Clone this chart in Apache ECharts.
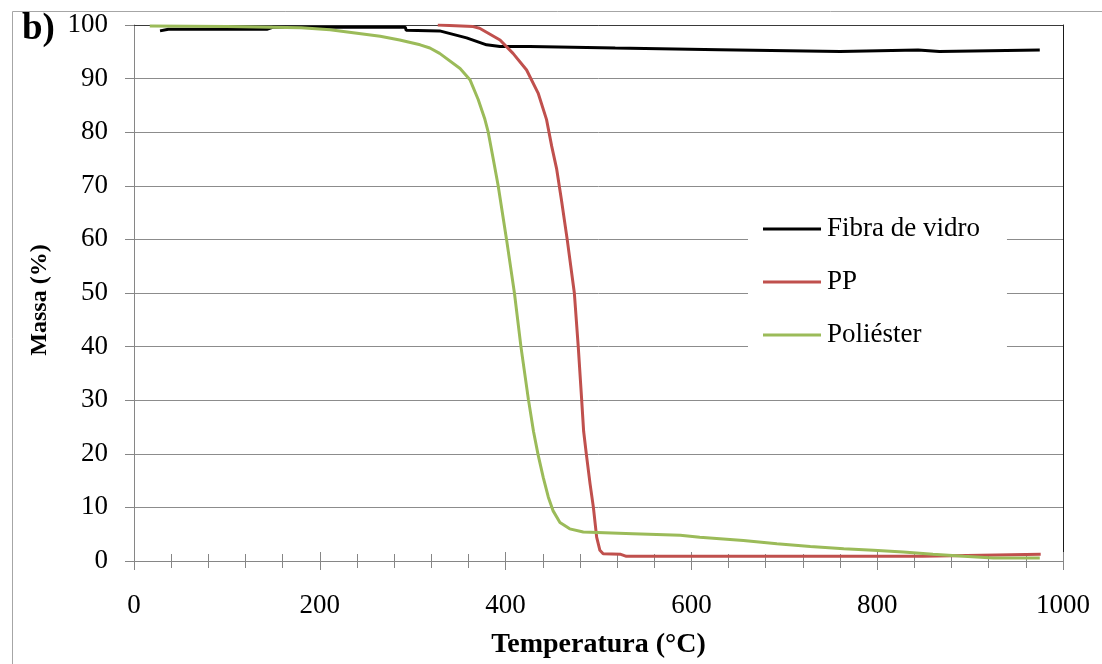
<!DOCTYPE html>
<html>
<head>
<meta charset="utf-8">
<script src="https://cdn.jsdelivr.net/npm/echarts@6/dist/echarts.min.js"></script>
<style>html,body{margin:0;padding:0;background:#fff;overflow:hidden}#c{width:1102px;height:664px}</style>
</head>
<body>
<div id="c"></div>
<script>
// ---- data (temperature °C, mass %) ----
const seriesNames = ['Fibra de vidro', 'PP', 'Poliéster'];
const xTicks = [0, 200, 400, 600, 800, 1000];
const yTicks = [0, 10, 20, 30, 40, 50, 60, 70, 80, 90, 100];

const fibraT = [28, 37, 143, 150, 292, 293, 329, 358, 379.5, 394, 426, 427, 518, 519, 630, 631, 760, 761, 844, 845, 867, 868, 975];
const fibraM = [98.9, 99.2, 99.2, 99.6, 99.6, 99.0, 98.9, 97.6, 96.3, 96.0, 96.0, 95.7, 95.7, 95.4, 95.4, 95.05, 95.05, 95.35, 95.35, 95.05, 95.05, 95.35, 95.35];

const ppT = [327, 365, 372, 394, 408, 422.6, 435, 444, 449.6, 455, 460, 466.3, 474, 478.2, 481.8, 484, 487, 491, 494.5, 498, 501.5, 505, 524, 530, 849, 850, 976];
const ppM = [100, 99.7, 99.4, 97.2, 94.7, 91.6, 87.3, 82.4, 77.4, 73.1, 67.5, 60, 50, 40, 30.3, 24.2, 19.8, 14.3, 10, 4.45, 2.0, 1.36, 1.24, 0.87, 0.87, 1.24, 1.24];

const poliT = [17, 100, 180, 211, 265, 286, 308, 318.5, 329, 351, 361.6, 370.5, 377.7, 381.3, 386.6, 392, 401, 409.5, 416.5, 424.5, 430, 435, 440.5, 446, 451, 458.5, 469, 483.6, 537, 588, 609, 656, 692, 728, 764, 796, 828, 860, 893, 925, 975];
const poliM = [99.8, 99.7, 99.5, 99.1, 97.9, 97.2, 96.3, 95.7, 94.7, 91.9, 89.8, 86.1, 82.4, 80, 75.1, 70, 60, 50, 40, 30.2, 24.2, 19.8, 15.6, 11.9, 9.4, 7.2, 6.0, 5.4, 5.1, 4.8, 4.45, 3.84, 3.2, 2.7, 2.3, 2.0, 1.67, 1.24, 0.87, 0.56, 0.56];

const colors = ['#000000', '#c0504d', '#9bbb59'];
const FONT = "'Liberation Serif', 'Times New Roman', serif";

function pairs(t, m) { return t.map((v, i) => [v, m[i]]); }

const chart = echarts.init(document.getElementById('c'), null, {renderer: 'canvas'});
const axisGrey = '#868686';

chart.setOption({
  animation: false,
  backgroundColor: '#fff',
  title: {
    text: 'b)', left: 22, top: 11, padding: 0,
    textStyle: {fontFamily: FONT, fontSize: 37, fontWeight: 'bold', color: '#000'}
  },
  graphic: [{
    type: 'rect', left: 10, top: 9, silent: true,
    shape: {width: 1300, height: 900},
    style: {fill: 'none', stroke: '#a6a6a6', lineWidth: 1}
  }],
  grid: {left: 134, right: 39, top: 25, bottom: 96, containLabel: false},
  legend: {
    orient: 'vertical', left: 748, top: 195,
    data: seriesNames.map(n => ({name: n, icon: 'rect'})),
    itemWidth: 58, itemHeight: 3, itemGap: 23,
    padding: [19, 27, 19, 15],
    backgroundColor: '#fff',
    textStyle: {fontFamily: FONT, fontSize: 27, color: '#000', lineHeight: 30, padding: [0, 0, 0, 1]}
  },
  xAxis: [{
    type: 'value', min: 0, max: 1000, interval: 200, position: 'bottom',
    name: 'Temperatura (°C)', nameLocation: 'middle', nameGap: 70,
    nameTextStyle: {fontFamily: FONT, fontSize: 28, fontWeight: 'bold', color: '#000'},
    axisLine: {show: true, lineStyle: {color: axisGrey, width: 1}},
    axisTick: {show: true, length: 9, lineStyle: {color: axisGrey}},
    minorTick: {show: true, splitNumber: 5, length: 7, lineStyle: {color: axisGrey}},
    axisLabel: {fontFamily: FONT, fontSize: 27, color: '#000', margin: 31, formatter: v => String(v)},
    splitLine: {show: false}
  }, {
    type: 'value', min: 0, max: 1000, interval: 200, position: 'bottom',
    axisLine: {show: false},
    axisTick: {show: true, inside: true, length: 9, lineStyle: {color: axisGrey}},
    minorTick: {show: true, splitNumber: 5, length: 7, lineStyle: {color: axisGrey}},
    axisLabel: {show: false},
    splitLine: {show: false}
  }, {
    type: 'value', min: 0, max: 1000, interval: 200, position: 'top',
    axisLine: {show: true, onZero: false, lineStyle: {color: '#3a3a3a', width: 1}},
    axisTick: {show: false}, axisLabel: {show: false}, splitLine: {show: false}
  }],
  yAxis: [{
    type: 'value', min: 0, max: 100, interval: 10, position: 'left',
    name: 'Massa (%)', nameLocation: 'middle', nameGap: 82,
    nameTextStyle: {fontFamily: FONT, fontSize: 24, fontWeight: 'bold', color: '#000', padding: [0, 14, 0, 0]},
    axisLine: {show: true, lineStyle: {color: axisGrey, width: 1}},
    axisTick: {show: true, length: 9, lineStyle: {color: axisGrey}},
    axisLabel: {fontFamily: FONT, fontSize: 27, color: '#000', margin: 26, formatter: v => String(v)},
    splitLine: {show: true, lineStyle: {color: '#8c8c8c', width: 1}}
  }, {
    type: 'value', min: 0, max: 100, interval: 10, position: 'right',
    axisLine: {show: true, onZero: false, lineStyle: {color: '#1a1a1a', width: 1}},
    axisTick: {show: false}, axisLabel: {show: false}, splitLine: {show: false}
  }],
  series: [
    {name: seriesNames[0], type: 'line', data: pairs(fibraT, fibraM), showSymbol: false, symbol: 'none',
     lineStyle: {color: colors[0], width: 3}, itemStyle: {color: colors[0]}, z: 3},
    {name: seriesNames[1], type: 'line', data: pairs(ppT, ppM), showSymbol: false, symbol: 'none',
     lineStyle: {color: colors[1], width: 3}, itemStyle: {color: colors[1]}, z: 4},
    {name: seriesNames[2], type: 'line', data: pairs(poliT, poliM), showSymbol: false, symbol: 'none',
     lineStyle: {color: colors[2], width: 3}, itemStyle: {color: colors[2]}, z: 5}
  ]
});
</script>
</body>
</html>
